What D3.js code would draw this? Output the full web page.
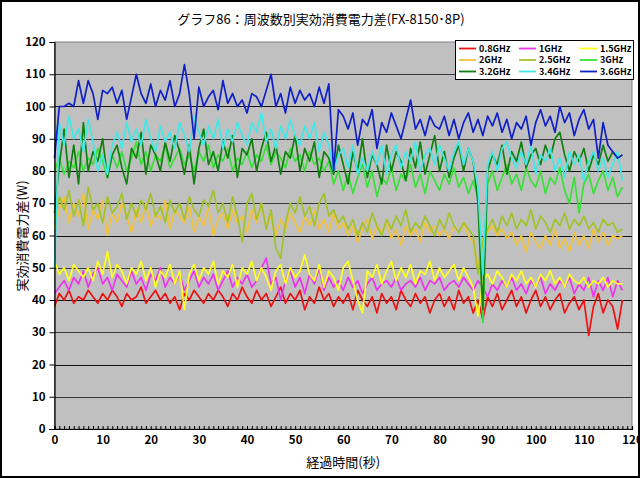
<!DOCTYPE html>
<html><head><meta charset="utf-8">
<script src="https://cdn.jsdelivr.net/npm/d3@7"></script>
<style>
html,body{margin:0;padding:0;background:#fff;}
svg{display:block;}
text{font-family:"MS PGothic","Noto Sans CJK JP","DejaVu Sans",sans-serif;}
</style></head>
<body>
<svg id="chart" width="640" height="478"></svg>
<script>
const title = "グラフ86：周波数別実効消費電力差(FX-8150･8P)";
const xTitle = "経過時間(秒)";
const yTitle = "実効消費電力差(W)";
const seriesNames = ["0.8GHz","1GHz","1.5GHz","2GHz","2.5GHz","3GHz","3.2GHz","3.4GHz","3.6GHz"];
const seriesColors = ["#ee1111","#ee33ee","#ffff22","#f2c23a","#a2c22a","#38e038","#118011","#40e8e8","#1020c8"];
const xTicks = [0,10,20,30,40,50,60,70,80,90,100,110,120];
const yTicks = [0,10,20,30,40,50,60,70,80,90,100,110,120];

const f08 = [38,42,40,43,39,41,40,43,41,39, 42,40,43,41,38,42,40,41,44,39, 41,43,40,42,39,41,37,42,40,43,
 41,39,42,40,43,41,38,42,40,44, 41,39,43,40,42,38,41,44,39,42, 40,43,37,41,39,44,40,42,38,41,
 39,42,37,43,40,38,41,36,42,39, 41,37,43,40,38,42,39,41,36,40, 42,38,41,37,43,39,41,36,40,34,
 41,38,42,37,40,43,38,41,36,40, 43,38,41,37,40,42,36,39,41,37, 40,29,38,42,36,40,38,31,40];
const f10 = [42,44,46,43,47,45,49,44,48,50, 45,47,43,48,46,44,49,45,47,43, 48,46,50,44,47,45,48,43,46,49,
 44,47,45,48,43,46,49,44,47,45, 48,44,46,50,53,45,47,40,46,49, 44,47,42,48,45,50,43,47,44,46,
 43,47,44,46,42,45,47,43,45,46, 44,47,43,45,46,44,47,43,46,45, 47,43,45,46,44,47,45,43,46,44,
 41,45,43,46,44,47,43,45,42,46, 44,47,42,45,43,46,44,47,42,45, 43,47,41,46,43,47,41,46,43];
const f15 = [52,48,50,46,51,49,47,50,46,52, 48,55,47,51,49,45,50,48,52,46, 50,44,49,47,51,45,49,37,48,51,
 46,50,48,52,45,49,47,51,44,50, 48,52,46,50,47,43,49,51,45,50, 47,49,54,48,46,51,44,49,47,43,
 50,52,46,40,36,49,47,51,45,49, 52,46,50,47,51,45,49,48,52,46, 50,47,49,51,46,50,47,44,35,46,
 48,45,49,47,44,48,46,49,45,47, 44,48,46,49,45,47,44,48,46,45, 47,44,46,45,47,44,46,45,45];
const f20 = [62,68,72,64,70,66,73,62,68,65, 71,60,67,64,70,66,61,68,64,70, 63,67,65,71,62,68,66,64,69,61,
 66,63,69,60,65,67,62,68,64,66, 61,68,64,70,63,66,60,65,62,67, 64,61,66,63,68,62,65,61,67,62,
 64,60,63,58,62,65,59,63,61,64, 59,62,57,63,60,62,58,64,61,63, 60,62,59,63,61,64,60,58,50,59,
 61,63,60,62,59,61,57,60,55,61, 58,56,60,57,62,56,59,55,61,57, 60,56,62,58,61,57,60,59,60];
const f25 = [65,72,68,74,66,71,63,75,68,70, 64,72,67,69,73,65,70,66,71,68, 73,66,69,64,71,67,70,65,72,68,
 66,71,69,74,67,70,64,72,66,58, 70,73,65,70,62,68,56,53,64,70, 67,72,66,69,63,70,73,66,68,64,
 66,62,65,60,64,61,67,63,60,65, 62,66,63,68,61,64,62,66,63,60, 65,62,67,63,61,64,62,60,48,58,
 62,65,61,66,63,67,62,65,63,68, 62,66,64,61,65,63,67,62,65,63, 66,62,64,61,65,63,64,61,62];
const f30 = [80,84,79,83,81,86,80,84,82,87, 83,78,85,81,86,80,84,89,82,86, 80,85,83,88,81,84,87,82,85,80,
 86,83,88,81,85,83,87,80,84,82, 86,81,85,83,88,82,86,84,81,87, 83,85,80,86,82,84,80,83,76,80,
 74,79,73,78,82,75,80,72,78,76, 81,74,79,77,82,75,79,73,80,77, 74,79,76,81,75,78,73,77,72,33,
 76,80,74,78,82,76,79,74,81,77, 75,80,73,78,76,81,74,70,78,67, 76,79,73,77,80,74,78,72,75];
const f32 = [67,82,93,78,88,76,95,80,86,83, 90,78,85,88,81,76,87,84,92,79, 88,85,80,89,83,91,86,79,88,76,
 87,93,82,86,80,89,84,91,78,87, 85,90,80,87,92,83,88,79,86,84, 91,80,87,83,89,78,86,84,79,88,
 82,76,86,80,90,78,85,82,76,88, 80,86,83,77,87,81,89,79,85,91, 80,86,78,84,88,80,87,83,70,37,
 80,85,82,88,79,86,83,89,81,85, 87,82,88,84,90,92,85,80,86,83, 87,80,85,82,88,83,86,84,85];
const f34 = [50,95,88,97,90,93,86,96,89,80, 85,79,88,92,87,95,89,93,88,96, 90,86,94,89,92,87,95,91,86,97,
 92,88,94,90,96,87,93,89,95,91, 88,95,92,98,89,93,87,94,90,96, 91,88,94,90,95,86,92,88,80,85,
 87,81,88,79,84,80,86,82,88,79, 85,88,81,86,83,89,80,85,87,82, 88,84,80,86,89,82,87,83,75,48,
 82,86,80,87,89,84,81,86,82,88, 79,85,83,87,80,84,78,86,82,85, 77,83,86,80,84,78,82,86,77];
const f36 = [84,100,100,101,100,108,101,108,104,96, 105,104,106,101,105,96,103,110,104,101, 107,100,105,102,108,100,104,113,104,90,
 106,100,103,105,99,108,101,104,100,102, 98,104,103,100,105,110,100,104,98,106, 101,105,102,104,100,106,101,107,80,99,
 97,93,98,88,96,94,99,87,95,92, 98,94,90,96,102,93,96,91,97,94, 93,97,91,96,90,95,98,92,96,91,
 97,94,98,92,96,90,95,93,97,88, 95,99,94,97,92,100,95,98,91,96, 99,93,96,84,95,88,86,84,85];

const seriesValues = [f08,f10,f15,f20,f25,f30,f32,f34,f36];
const seconds = d3.range(0, f08.length);

const narrow = "'Liberation Sans Narrow','DejaVu Sans Condensed','DejaVu Sans',sans-serif";
const svg = d3.select("#chart");
const W = 640, H = 478;
const plot = {left:54.5, right:632, top:42, bottom:429};

// outer frame
svg.append("rect").attr("x",1).attr("y",1).attr("width",W-2).attr("height",H-2)
  .attr("fill","#fff").attr("stroke","#000").attr("stroke-width",2);

const x = d3.scaleLinear().domain([0,120]).range([plot.left, plot.right]);
const y = d3.scaleLinear().domain([0,120]).range([plot.bottom, plot.top]);

// plot background
svg.append("rect").attr("x",plot.left).attr("y",plot.top)
  .attr("width",plot.right-plot.left).attr("height",plot.bottom-plot.top)
  .attr("fill","#c0c0c0").attr("stroke","#808080").attr("stroke-width",1);

// gridlines
svg.append("g").selectAll("line").data(yTicks.filter(d=>d>0 && d<120)).join("line")
  .attr("x1",plot.left).attr("x2",plot.right)
  .attr("y1",d=>Math.round(y(d))+0.5).attr("y2",d=>Math.round(y(d))+0.5)
  .attr("stroke",(d,i)=> (i%2===0 ? "#3a3a3a" : "#111"))
  .attr("stroke-width",1.2);

// series lines
const line = d3.line().x((d,i)=>x(seconds[i])).y(d=>y(d));
svg.append("g").selectAll("path").data(seriesValues).join("path")
  .attr("d", d=>line(d))
  .attr("fill","none")
  .attr("stroke",(d,i)=>seriesColors[i])
  .attr("stroke-width",1.7)
  .attr("stroke-linejoin","round");

// y axis
const yAxis = svg.append("g").attr("transform",`translate(${plot.left},0)`)
  .call(d3.axisLeft(y).tickValues(yTicks).tickSize(5).tickPadding(4));
yAxis.select(".domain").attr("stroke","#000").attr("stroke-width",1.2);
yAxis.selectAll(".tick line").attr("stroke","#000");
yAxis.selectAll("text").attr("font-size",11.5).attr("font-weight","bold").attr("fill","#000")
  .attr("font-family",narrow);

// x axis minor ticks
const xMinor = svg.append("g").attr("transform",`translate(0,${plot.bottom})`)
  .call(d3.axisBottom(x).tickValues(d3.range(0,121,1)).tickSize(-3).tickFormat(""));
xMinor.select(".domain").attr("stroke","#000").attr("stroke-width",1.2);
xMinor.selectAll(".tick line").attr("stroke","#000");

// x axis labels
const xAxis = svg.append("g").attr("transform",`translate(0,${plot.bottom})`)
  .call(d3.axisBottom(x).tickValues(xTicks).tickSize(0).tickPadding(7));
xAxis.select(".domain").remove();
xAxis.selectAll("text").attr("font-size",11.5).attr("font-weight","bold").attr("fill","#000")
  .attr("font-family",narrow);

// titles
svg.append("text").attr("x",321).attr("y",24).attr("text-anchor","middle")
  .attr("font-size",13).attr("fill","#000").text(title);
svg.append("text").attr("x",(plot.left+plot.right)/2).attr("y",467).attr("text-anchor","middle")
  .attr("font-size",13).attr("fill","#000").text(xTitle);
svg.append("text").attr("transform","translate(27,236) rotate(-90)").attr("text-anchor","middle")
  .attr("font-size",13).attr("fill","#000").text(yTitle);

// legend
const lg = svg.append("g");
lg.append("rect").attr("x",455.5).attr("y",40.5).attr("width",178).attr("height",39)
  .attr("fill","#fff").attr("stroke","#000").attr("stroke-width",1);
const colX = [459, 519, 580];
const rowY = [48.5, 60, 71.5];
seriesNames.forEach((name,i)=>{
  const cx = colX[i%3], cy = rowY[Math.floor(i/3)];
  lg.append("line").attr("x1",cx).attr("x2",cx+17).attr("y1",cy).attr("y2",cy)
    .attr("stroke",seriesColors[i]).attr("stroke-width",1.8);
  lg.append("text").attr("x",cx+20).attr("y",cy+3.2).attr("font-size",9).attr("font-weight","bold")
    .attr("font-family",narrow)
    .attr("fill","#000").text(name);
});
</script>
</body></html>
